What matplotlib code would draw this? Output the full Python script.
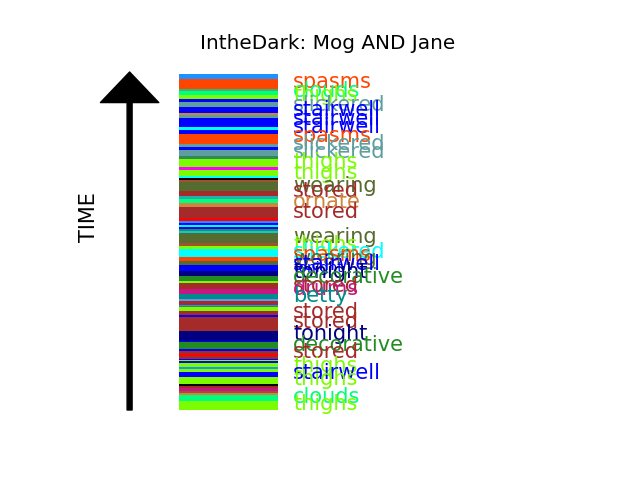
import numpy as np
import matplotlib
matplotlib.use("Agg")
import matplotlib.pyplot as plt

# stripes, listed from the top of the bar down
stripe_colors = [
    "dodgerblue", "orangered", "mediumseagreen", "springgreen", "lawngreen",
    "blue", "cadetblue", "blue", "peru", "cadetblue",
    "blue", "cyan", "blue", "orangered", "cadetblue",
    "blue", "cadetblue", "seagreen", "lawngreen", "magenta",
    "lawngreen", "cyan", "black", "sienna", "darkolivegreen",
    "brown", "lightseagreen", "springgreen", "peru", "brown",
    "red", "dodgerblue", "blue", "cyan", "blue",
    "seagreen", "darkturquoise", "darkolivegreen", "sienna", "lawngreen",
    "cyan", "orangered", "darkolivegreen", "blue", "navy",
    "forestgreen", "lawngreen", "brown", "mediumvioletred", "darkcyan",
    "cornflowerblue", "brown", "dodgerblue", "seagreen", "lawngreen",
    "brown", "blue", "brown", "navy", "blue",
    "forestgreen", "blue", "brown", "red", "brown",
    "blue", "lawngreen", "blue", "lawngreen", "dodgerblue",
    "lawngreen", "blue", "lawngreen", "black", "brown",
    "mediumvioletred", "sienna", "peru", "springgreen", "lawngreen",
]
stripe_sizes = [
    5.3, 9.4, 2.0, 4.6, 4.0,
    2.7, 5.3, 6.0, 1.7, 3.3,
    9.0, 2.7, 4.0, 10.0, 3.3,
    2.4, 6.6, 2.4, 8.6, 2.4,
    6.6, 1.7, 2.0, 2.0, 8.7,
    5.3, 2.7, 4.6, 3.4, 11.3,
    2.7, 2.0, 2.0, 2.0, 2.0,
    2.0, 2.6, 10.0, 2.4, 3.3,
    7.7, 4.6, 3.4, 6.0, 5.3,
    5.3, 2.0, 5.4, 5.3, 5.3,
    2.0, 3.4, 1.3, 1.3, 4.0,
    4.0, 2.0, 14.0, 9.4, 1.3,
    6.7, 2.0, 3.3, 2.0, 2.7,
    1.3, 1.3, 2.0, 3.4, 2.0,
    3.3, 5.3, 6.7, 2.0, 2.0,
    2.7, 2.0, 2.6, 6.0, 8.7,
]

# word labels beside the bar
words = [
    "spasms", "clouds", "thighs", "slickered", "stairwell", "stairwell",
    "stairwell", "spasms", "slickered", "slickered", "thighs", "thighs",
    "wearing", "stored", "ornate", "stored", "wearing", "thighs",
    "slickered", "spasms", "wearing", "stairwell", "tonight", "tonight",
    "decorative", "stored", "drums", "betty", "stored", "stored",
    "tonight", "decorative", "stored", "thighs", "stairwell", "thighs",
    "clouds", "thighs",
]
word_pos = [
    8, 17, 21, 31, 36, 45,
    53, 62, 70, 78, 88, 99,
    112, 117, 128, 138, 163, 171,
    178, 181, 185, 190, 194, 198,
    203, 212, 215, 222, 238, 248,
    260, 271, 278, 292, 299, 305,
    323, 330,
]
word_colors = [
    "orangered", "springgreen", "lawngreen", "cadetblue", "blue", "blue",
    "blue", "orangered", "cadetblue", "cadetblue", "lawngreen", "lawngreen",
    "darkolivegreen", "brown", "peru", "brown", "darkolivegreen", "lawngreen",
    "cyan", "orangered", "darkolivegreen", "blue", "blue", "navy",
    "forestgreen", "brown", "mediumvioletred", "darkcyan", "brown", "brown",
    "navy", "forestgreen", "brown", "lawngreen", "blue", "lawngreen",
    "springgreen", "lawngreen",
]
word_sizes = [15] * len(words)
word_sizes[22] = 10

fig, ax = plt.subplots(figsize=(6.4, 4.8), dpi=100)

bottoms = np.concatenate([[0], np.cumsum(stripe_sizes)[:-1]])
ax.bar(0.3, stripe_sizes, bottom=bottoms, width=0.2, color=stripe_colors)

for w, p, c, s in zip(words, word_pos, word_colors, word_sizes):
    ax.text(0.43, p, w, color=c, fontsize=s, ha="left", va="center")

total = sum(stripe_sizes)
ax.annotate("", xy=(0.1, -2), xytext=(0.1, total),
            arrowprops=dict(facecolor="black", edgecolor="black",
                            width=3.6, headwidth=42, headlength=22, shrink=0))
ax.text(0.018, 143, "TIME", rotation=90, fontsize=15, ha="center", va="center")

ax.set_xlim(0, 1)
ax.set_ylim(total + 17.2, -16.4)  # time runs upward, first word at top
ax.axis("off")
ax.set_title("IntheDark: Mog AND Jane", fontsize=14.4)

fig.savefig("out.png")
